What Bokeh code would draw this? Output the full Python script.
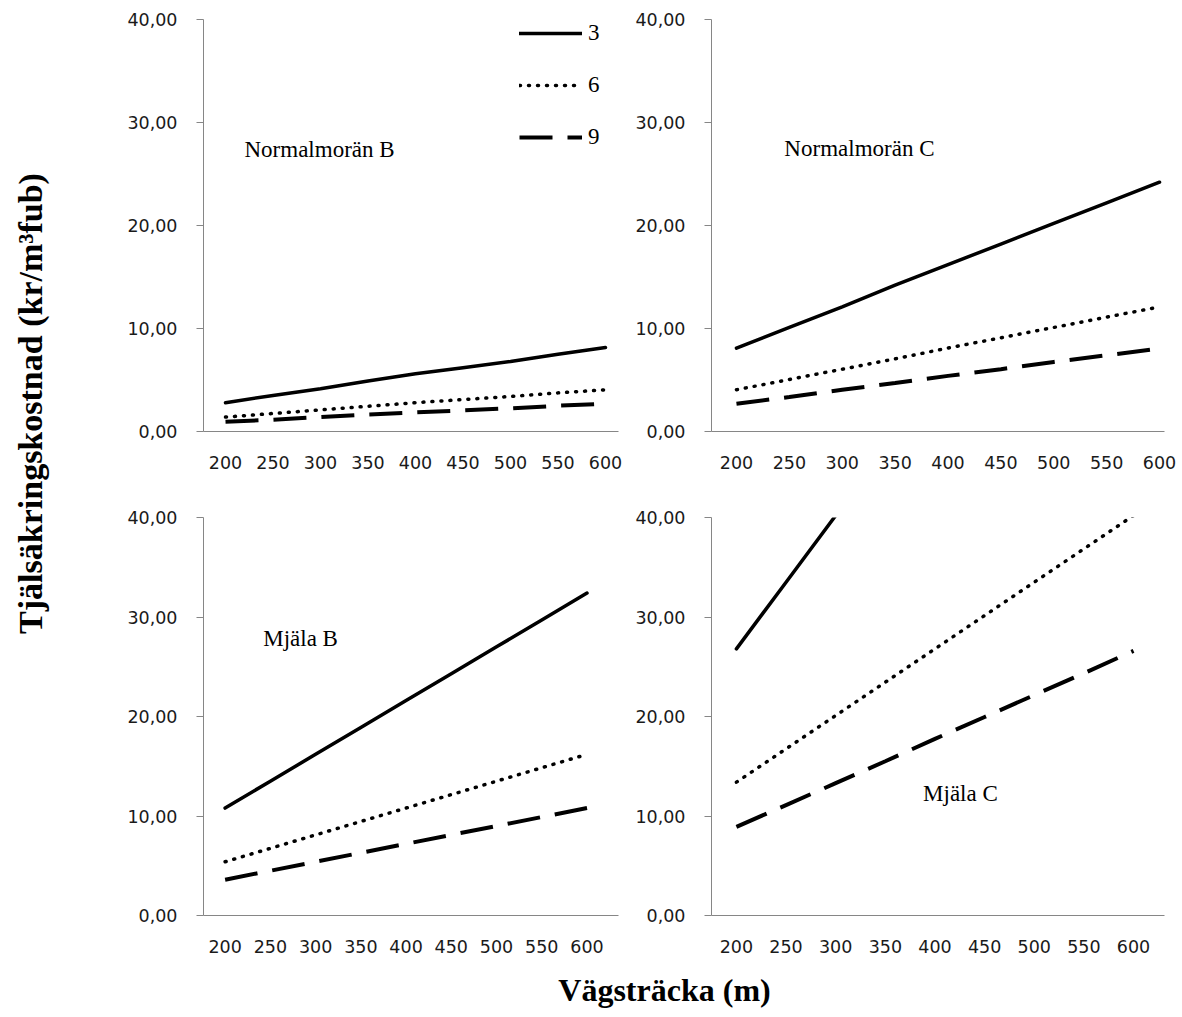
from bokeh.plotting import figure
from bokeh.models import (Range1d, FixedTicker, Label, Legend, LegendItem)
from bokeh.layouts import row, column
from bokeh.embed import file_html
from bokeh.resources import INLINE

# ---------------- data ----------------
distance = [200, 250, 300, 350, 400, 450, 500, 550, 600]
x_tick_labels = ["200", "250", "300", "350", "400", "450", "500", "550", "600"]
y_ticks = [0, 10, 20, 30, 40]
y_tick_labels = ["0,00", "10,00", "20,00", "30,00", "40,00"]
series_names = ["3", "6", "9"]

nm_b_3 = [2.8, 3.5, 4.15, 4.9, 5.6, 6.2, 6.8, 7.5, 8.15]
nm_b_6 = [1.4, 1.75, 2.1, 2.45, 2.8, 3.1, 3.4, 3.75, 4.05]
nm_b_9 = [0.95, 1.15, 1.4, 1.65, 1.85, 2.05, 2.25, 2.5, 2.7]

nm_c_3 = [8.1, 10.1, 12.1, 14.2, 16.2, 18.2, 20.2, 22.2, 24.2]
nm_c_6 = [4.05, 5.05, 6.05, 7.05, 8.1, 9.1, 10.1, 11.1, 12.1]
nm_c_9 = [2.7, 3.35, 4.05, 4.7, 5.4, 6.05, 6.75, 7.4, 8.05]

mj_b_3 = [10.8, 13.5, 16.2, 18.9, 21.6, 24.3, 27.0, 29.7, 32.4]
mj_b_6 = [5.4, 6.75, 8.1, 9.45, 10.8, 12.15, 13.5, 14.85, 16.2]
mj_b_9 = [3.6, 4.5, 5.4, 6.3, 7.2, 8.1, 9.0, 9.9, 10.8]

mj_c_3 = [26.8, 33.5, 40.2, 46.9, 53.6, 60.3, 67.0, 73.7, 80.4]
mj_c_6 = [13.4, 16.75, 20.1, 23.45, 26.8, 30.15, 33.5, 36.85, 40.2]
mj_c_9 = [8.9, 11.1, 13.3, 15.5, 17.75, 19.95, 22.15, 24.35, 26.6]

panel_titles = ["Normalmorän B", "Normalmorän  C", "Mjäla B", "Mjäla C"]
y_title = "Tjälsäkringskostnad (kr/m³fub)"
x_title = "Vägsträcka (m)"

# ---------------- styling ----------------
TICK_FONT = "DejaVu Sans"
SERIF = "Liberation Serif"
AXIS_COLOR = "#868686"
TEXT_COLOR = "#1a1a1a"

styles = [
    dict(line_dash="solid", line_width=3.5, line_cap="round"),
    dict(line_dash="1 8", line_width=3.5, line_cap="round"),
    dict(line_dash="33 15", line_width=4, line_cap="butt"),
]


def make_panel(series, title, title_pos, x_rng, width, height, borders):
    bl, br, bt, bb = borders
    p = figure(width=width, height=height, output_backend="svg",
               toolbar_location=None, tools="",
               x_range=Range1d(*x_rng), y_range=Range1d(0, 40),
               min_border_left=bl, min_border_right=br,
               min_border_top=bt, min_border_bottom=bb)
    p.outline_line_color = None
    p.grid.visible = False
    p.background_fill_color = "white"
    p.border_fill_color = "white"

    p.xaxis.ticker = FixedTicker(ticks=distance)
    p.xaxis.major_label_overrides = {d: s for d, s in zip(distance, x_tick_labels)}
    p.yaxis.ticker = FixedTicker(ticks=y_ticks)
    p.yaxis.major_label_overrides = {t: s for t, s in zip(y_ticks, y_tick_labels)}
    for ax in (p.xaxis, p.yaxis):
        ax.axis_line_color = AXIS_COLOR
        ax.axis_line_width = 1
        ax.major_tick_line_color = AXIS_COLOR
        ax.minor_tick_line_color = None
        ax.major_label_text_font = TICK_FONT
        ax.major_label_text_font_size = "17.5px"
        ax.major_label_text_color = TEXT_COLOR
        ax.major_tick_in = 0
    p.xaxis.major_tick_out = 0
    p.xaxis.major_tick_line_color = None
    p.xaxis.major_label_standoff = 24
    p.yaxis.major_tick_out = 7
    p.yaxis.major_label_standoff = 19

    rends = []
    for vals, st in zip(series, styles):
        r = p.line(distance, vals, line_color="black", **st)
        rends.append(r)

    p.add_layout(Label(x=title_pos[0], y=title_pos[1], text=title,
                       text_font=SERIF, text_font_size="23px",
                       text_color="black", text_baseline="alphabetic",
                       text_align="left"))
    return p, rends


# borders: (left, right, top, bottom); rows/columns share borders
p1, r1 = make_panel([nm_b_3, nm_b_6, nm_b_9], panel_titles[0], (220, 27.38),
                    (176.84, 613.7), 564, 488, (135, 14, 19, 57))
p2, _ = make_panel([nm_c_3, nm_c_6, nm_c_9], panel_titles[1], (245.3, 27.48),
                   (176.4, 604.7), 550, 488, (78, 18, 19, 57))
p3, _ = make_panel([mj_b_3, mj_b_6, mj_b_9], panel_titles[2], (242.1, 27.84),
                   (176.1, 634.8), 564, 474, (135, 14, 29, 47))
p4, _ = make_panel([mj_c_3, mj_c_6, mj_c_9], panel_titles[3], (388, 12.26),
                   (174.9, 631.2), 550, 474, (78, 18, 29, 47))

legend = Legend(items=[LegendItem(label=n, renderers=[r]) for n, r in zip(series_names, r1)],
                location=(316, 281), orientation="vertical",
                glyph_width=63, glyph_height=26, label_height=26,
                label_standoff=6, spacing=26, padding=0, margin=0,
                border_line_color=None, background_fill_alpha=0,
                label_text_font=SERIF, label_text_font_size="23px",
                label_text_color="black")
p1.add_layout(legend)


def text_fig(w, h):
    f = figure(width=w, height=h, output_backend="svg", toolbar_location=None,
               tools="", x_range=Range1d(0, w), y_range=Range1d(0, h),
               min_border=0)
    f.axis.visible = False
    f.grid.visible = False
    f.outline_line_color = None
    return f


ytf = text_fig(68, 1017)
ytf.add_layout(Label(x=30, y=614, text=y_title, angle=1.5707963,
                     text_font=SERIF, text_font_style="bold",
                     text_font_size="34px", text_color="black",
                     text_align="center", text_baseline="middle"))

xtf = text_fig(1114, 55)
xtf.add_layout(Label(x=596, y=28, text=x_title,
                     text_font=SERIF, text_font_style="bold",
                     text_font_size="32px", text_color="black",
                     text_align="center", text_baseline="middle"))

layout = row(ytf, column(row(p1, p2), row(p3, p4), xtf))

open("out.html", "w").write(file_html(layout, INLINE))
